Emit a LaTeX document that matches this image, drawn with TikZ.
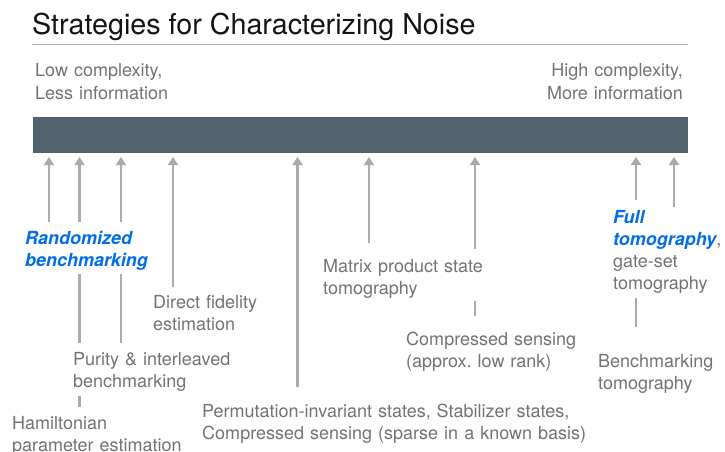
\documentclass[tikz,border=0pt]{standalone}
\usepackage{fontspec}
\setmainfont{TeX Gyre Heros}
\usetikzlibrary{arrows.meta}
\definecolor{bargray}{RGB}{82,98,109}
\definecolor{txtgray}{RGB}{115,115,115}
\definecolor{arrgray}{RGB}{170,170,170}
\definecolor{rulegray}{RGB}{176,176,176}
\definecolor{hiblue}{RGB}{0,110,230}
\definecolor{titleblack}{RGB}{20,20,20}
\newcommand\bluebi[1]{{\color{hiblue}\bfseries\itshape #1}}
\begin{document}
\begin{tikzpicture}[x=1pt,y=-1pt,
  lbl/.style={anchor=base west, inner sep=0pt, text width=#1, align=left,
    font=\fontsize{18}{22}\selectfont, text=txtgray},
  lbl/.default=400pt,
  arr/.style={draw=arrgray, line width=2.8pt, -{Triangle[width=10pt,length=8pt]}},
  seg/.style={draw=arrgray, line width=2.6pt}]
\useasboundingbox[fill=white] (0,0) rectangle (725,452);

% title and rule
\node[anchor=base west, inner sep=0pt, font=\fontsize{28.7}{34}\selectfont, text=titleblack]
  (title) at (32,35) {Strategies for Characterizing Noise};
\coordinate (r1) at (32,44.5);
\coordinate (r2) at (688,44.5);
\draw[rulegray, line width=1pt] (r1) -- (r2);

% end labels
\node[lbl] (low) at (35,77) {Low complexity,\\Less information};
\node[lbl, anchor=base east, align=right] (high) at (683,77) {High complexity,\\More information};

% bar
\node[fill=bargray, minimum width=655pt, minimum height=36pt, inner sep=0pt, anchor=north west]
  (bar) at (33,117) {};

% labels
\node[lbl] (rb) at (25,244) {\bluebi{Randomized}\\\bluebi{benchmarking}};
\node[lbl] (dfe) at (153,308) {Direct fidelity\\estimation};
\node[lbl] (pur) at (73,365) {Purity \& interleaved\\benchmarking};
\node[lbl] (ham) at (12,429) {Hamiltonian\\parameter estimation};
\node[lbl] (perm) at (202,417) {Permutation-invariant states, Stabilizer states,\\Compressed sensing (sparse in a known basis)};
\node[lbl] (mps) at (323,272) {Matrix product state\\tomography};
\node[lbl] (cs) at (406,345) {Compressed sensing\\(approx.\ low rank)};
\node[lbl] (full) at (613,223) {\bluebi{Full}\\\bluebi{tomography},\\gate-set\\tomography};
\node[lbl] (bt) at (598,367) {Benchmarking\\tomography};

% arrow tips (just below the bar)
\coordinate (p1) at (49,157);
\coordinate (p2) at (79.5,157);
\coordinate (p3) at (121,157);
\coordinate (p4) at (173,157);
\coordinate (p5) at (297.5,157);
\coordinate (p6) at (369,157);
\coordinate (p7) at (475,157);
\coordinate (p8) at (636,157);
\coordinate (p9) at (674,157);
% arrow tails
\coordinate (a1) at (49,222);
\coordinate (a2) at (79.5,222);
\coordinate (a3) at (121,222);
\coordinate (a4) at (173,287);
\coordinate (a5) at (297.5,387);
\coordinate (a6) at (369,243);
\coordinate (a7) at (475,249);
\coordinate (a8) at (636,200);
\coordinate (a9) at (674,207);

\draw[arr] (a1) -- (p1);
\draw[arr] (a2) -- (p2);
\draw[arr] (a3) -- (p3);
\draw[arr] (a4) -- (p4);
\draw[arr] (a5) -- (p5);
\draw[arr] (a6) -- (p6);
\draw[arr] (a7) -- (p7);
\draw[arr] (a8) -- (p8);
\draw[arr] (a9) -- (p9);

% connecting segments between labels
\coordinate (s1a) at (79.5,274); \coordinate (s1b) at (79.5,343);
\coordinate (s2a) at (121,274);  \coordinate (s2b) at (121,343);
\coordinate (s3a) at (79.5,396); \coordinate (s3b) at (79.5,407);
\coordinate (s4a) at (475,301);  \coordinate (s4b) at (475,316);
\coordinate (s5a) at (636,298);  \coordinate (s5b) at (636,327);
\draw[seg] (s1a) -- (s1b);
\draw[seg] (s2a) -- (s2b);
\draw[seg] (s3a) -- (s3b);
\draw[seg] (s4a) -- (s4b);
\draw[seg] (s5a) -- (s5b);
\end{tikzpicture}
\end{document}
